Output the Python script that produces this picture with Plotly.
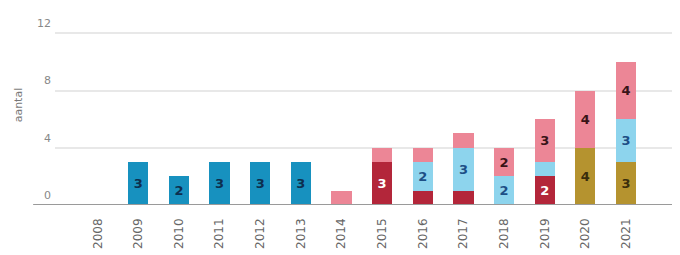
import plotly.graph_objects as go

years = [str(y) for y in range(2008, 2022)]
blue      = [None, 3, 2, 3, 3, 3, None, None, None, None, None, None, None, None]
dark_red  = [None, None, None, None, None, None, None, 3, 1, 1, None, 2, None, None]
olive     = [None, None, None, None, None, None, None, None, None, None, None, None, 4, 3]
light_blue= [None, None, None, None, None, None, None, None, 2, 3, 2, 1, None, 3]
pink      = [None, None, None, None, None, None, 1, 1, 1, 1, 2, 3, 4, 4]

y_ticks = [0, 4, 8, 12]

series = [
    ("blue", blue, "#1791bf", "#0d2f4f"),
    ("dark_red", dark_red, "#b3263a", "#ffffff"),
    ("olive", olive, "#b5932f", "#3a2e0c"),
    ("light_blue", light_blue, "#8dd4ed", "#1d4f86"),
    ("pink", pink, "#ec8696", "#3a1418"),
]

fig = go.Figure()
for name, vals, col, tcol in series:
    txt = [str(v) if (v is not None and v >= 2) else "" for v in vals]
    fig.add_trace(go.Bar(
        x=years, y=vals, name=name, marker=dict(color=col, line=dict(width=0)),
        text=txt, textposition="inside", insidetextanchor="middle",
        textangle=0,
        textfont=dict(color=tcol, size=13, family="DejaVu Sans", weight="bold"),
        constraintext="none", showlegend=False, hoverinfo="skip",
    ))

fig.update_layout(
    barmode="stack", bargap=0.5,
    width=680, height=255,
    margin=dict(l=47, r=8, t=21, b=58),
    paper_bgcolor="white", plot_bgcolor="white",
    uniformtext=dict(mode=False),
)
fig.update_xaxes(
    type="category", range=[-1.05, 14.33], tickangle=-90, automargin=False,
    tickfont=dict(size=12, color="#666666", family="DejaVu Sans"),
    showgrid=False, showline=False, zeroline=False, ticks="", ticklabelstandoff=10,
)
fig.update_yaxes(
    range=[0, 12.3], tickvals=y_ticks, showgrid=True, gridcolor="#e8e8e8", gridwidth=1.5,
    zeroline=False, showline=False, ticks="", automargin=False,
    tickfont=dict(size=11, color="#888888", family="DejaVu Sans"),
    ticklabelshift=-10, ticklabelstandoff=3,
)
# baseline
fig.add_shape(type="line", xref="paper", yref="y", x0=-0.035, x1=1, y0=0, y1=0,
              line=dict(color="#9a9a9a", width=2))
fig.add_annotation(text="aantal", xref="paper", yref="y", x=-0.072, y=7.0,
                   textangle=-90, showarrow=False,
                   font=dict(size=11, color="#777777", family="DejaVu Sans"))

fig.write_html("out.html")
